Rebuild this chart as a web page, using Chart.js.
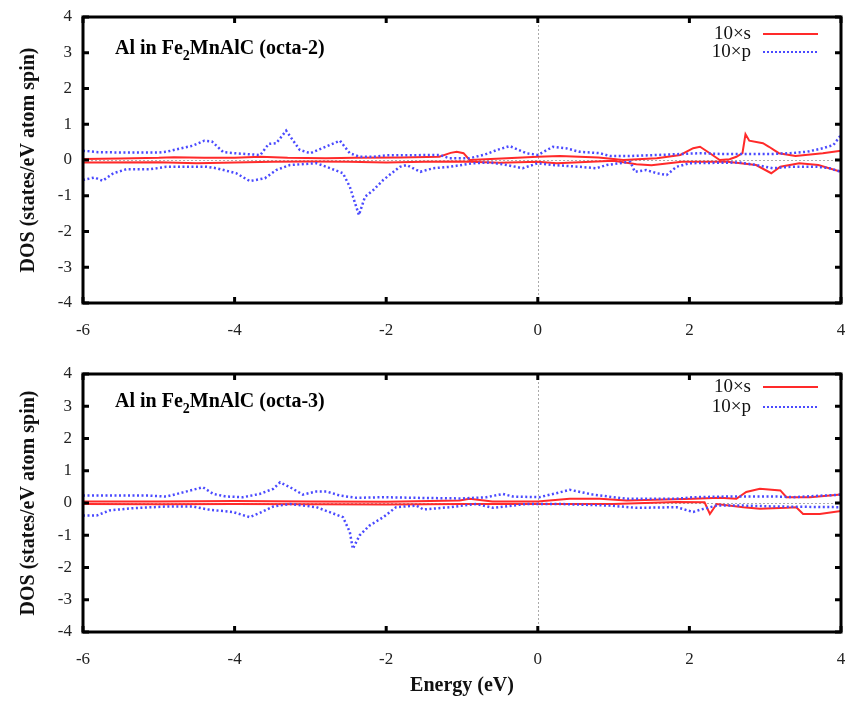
<!DOCTYPE html>
<html>
<head>
<meta charset="utf-8">
<script src="https://cdn.jsdelivr.net/npm/chart.js@4"></script>
<style>
  html, body { margin: 0; padding: 0; background: #fff; }
  #wrap { position: relative; width: 852px; height: 702px; }
  canvas { position: absolute; left: 0; }
</style>
</head>
<body>
<div id="wrap">
  <canvas id="top" width="852" height="345" style="top:0"></canvas>
  <canvas id="bottom" width="852" height="345" style="top:357px"></canvas>
</div>
<script>
// [energy (eV), DOS]
const top_sUp = [[-6,0.03],[-5.5,0.04],[-5.0,0.06],[-4.8,0.08],[-4.4,0.06],[-4.0,0.06],[-3.66,0.09],[-3.3,0.06],[-2.8,0.05],[-2.4,0.06],[-1.8,0.07],[-1.3,0.09],[-1.15,0.2],[-1.07,0.23],[-0.98,0.19],[-0.9,0.0],[-0.41,0.05],[0,0.09],[0.29,0.11],[0.8,0.07],[1.13,0.0],[1.57,0.05],[1.88,0.14],[2.05,0.33],[2.14,0.37],[2.27,0.19],[2.4,0.0],[2.53,0.02],[2.62,0.09],[2.7,0.19],[2.74,0.72],[2.79,0.54],[2.97,0.47],[3.05,0.37],[3.18,0.19],[3.4,0.11],[3.76,0.19],[4.0,0.26]]
const top_sDown = [[-6,-0.07],[-5.0,-0.06],[-4.5,-0.09],[-4.0,-0.07],[-3.5,-0.05],[-3.0,-0.04],[-2.5,-0.05],[-2.0,-0.07],[-1.5,-0.05],[-1.0,-0.04],[-0.5,-0.08],[0,-0.05],[0.25,-0.09],[0.7,-0.05],[1.0,-0.02],[1.3,-0.12],[1.5,-0.15],[1.7,-0.1],[1.9,-0.05],[2.5,-0.05],[2.88,-0.14],[3.08,-0.37],[3.2,-0.19],[3.45,-0.09],[3.7,-0.14],[4.0,-0.33]]
const top_pUp = [[-6,0.26],[-5.8,0.22],[-5.5,0.21],[-5.0,0.21],[-4.9,0.23],[-4.7,0.33],[-4.55,0.4],[-4.4,0.54],[-4.3,0.52],[-4.15,0.22],[-4.0,0.19],[-3.8,0.16],[-3.66,0.14],[-3.55,0.45],[-3.45,0.47],[-3.32,0.82],[-3.14,0.28],[-3.0,0.19],[-2.8,0.37],[-2.61,0.54],[-2.48,0.19],[-2.35,0.09],[-2.17,0.09],[-2.0,0.13],[-1.29,0.14],[-1.17,0.05],[-0.9,0.05],[-0.7,0.15],[-0.54,0.28],[-0.37,0.39],[-0.15,0.19],[0.0,0.14],[0.2,0.37],[0.37,0.33],[0.55,0.23],[0.82,0.19],[0.95,0.11],[1.2,0.11],[1.57,0.14],[2.14,0.19],[2.4,0.17],[3.1,0.17],[3.33,0.19],[3.55,0.23],[3.76,0.33],[3.9,0.42],[4.0,0.7]]
const top_pDown = [[-6,-0.56],[-5.85,-0.49],[-5.74,-0.58],[-5.6,-0.37],[-5.43,-0.26],[-5.12,-0.26],[-4.9,-0.19],[-4.37,-0.19],[-4.24,-0.23],[-3.98,-0.37],[-3.8,-0.59],[-3.6,-0.51],[-3.45,-0.28],[-3.27,-0.14],[-2.92,-0.09],[-2.74,-0.23],[-2.57,-0.37],[-2.48,-0.75],[-2.36,-1.54],[-2.28,-1.03],[-2.17,-0.84],[-2.04,-0.56],[-1.82,-0.19],[-1.73,-0.14],[-1.55,-0.33],[-1.38,-0.23],[-1.16,-0.19],[-0.85,-0.09],[-0.63,-0.07],[-0.41,-0.14],[-0.2,-0.23],[0,-0.09],[0.2,-0.14],[0.55,-0.19],[0.77,-0.23],[0.91,-0.14],[1.22,-0.05],[1.28,-0.33],[1.43,-0.28],[1.57,-0.37],[1.7,-0.42],[1.83,-0.19],[2.0,-0.09],[2.66,-0.07],[2.88,-0.14],[3.1,-0.23],[3.33,-0.19],[3.68,-0.19],[3.85,-0.23],[4.0,-0.33]]

const bot_sUp = [[-6,0.05],[-5,0.05],[-4,0.06],[-3,0.05],[-2,0.04],[-1.03,0.08],[-0.9,0.13],[-0.6,0.05],[0,0.05],[0.42,0.13],[0.82,0.13],[1.17,0.08],[2.05,0.13],[2.4,0.16],[2.62,0.13],[2.75,0.34],[2.93,0.44],[3.2,0.39],[3.28,0.18],[3.59,0.18],[4.0,0.26]]
const bot_sDown = [[-6,-0.03],[-5,-0.04],[-4,-0.03],[-3,-0.04],[-2,-0.05],[-1,-0.03],[0,-0.03],[1,-0.03],[1.83,0.03],[2.2,0.02],[2.27,-0.34],[2.36,-0.03],[2.71,-0.13],[2.93,-0.18],[3.28,-0.15],[3.41,-0.13],[3.5,-0.34],[3.72,-0.34],[4.0,-0.25]]
const bot_pUp = [[-6,0.23],[-5.12,0.23],[-4.9,0.2],[-4.68,0.33],[-4.42,0.49],[-4.28,0.28],[-4.11,0.2],[-3.89,0.18],[-3.67,0.28],[-3.49,0.44],[-3.4,0.64],[-3.27,0.49],[-3.1,0.26],[-2.92,0.36],[-2.79,0.36],[-2.61,0.23],[-2.39,0.16],[-2.04,0.18],[-1.6,0.16],[-0.99,0.14],[-0.68,0.18],[-0.46,0.28],[-0.33,0.2],[0.02,0.18],[0.24,0.3],[0.42,0.41],[0.73,0.26],[1.17,0.13],[1.83,0.13],[2.05,0.18],[2.49,0.2],[3.15,0.2],[3.37,0.18],[4.0,0.26]]
const bot_pDown = [[-6,-0.39],[-5.82,-0.39],[-5.65,-0.23],[-5.34,-0.16],[-4.9,-0.11],[-4.55,-0.11],[-4.33,-0.21],[-4.02,-0.28],[-3.8,-0.44],[-3.67,-0.31],[-3.49,-0.11],[-3.27,-0.03],[-2.92,-0.13],[-2.57,-0.44],[-2.48,-0.9],[-2.44,-1.42],[-2.35,-1.0],[-2.22,-0.7],[-2.04,-0.44],[-1.87,-0.13],[-1.6,-0.08],[-1.51,-0.2],[-1.16,-0.13],[-0.81,-0.03],[-0.59,-0.15],[-0.15,-0.03],[0.29,-0.03],[0.95,-0.08],[1.3,-0.15],[1.83,-0.13],[2.05,-0.28],[2.14,-0.21],[2.36,-0.08],[2.71,-0.08],[3.15,-0.11],[4.0,-0.13]]

const X_TICKS = [-6, -4, -2, 0, 2, 4]
const Y_TICKS = [-4, -3, -2, -1, 0, 1, 2, 3, 4]
const LEGEND = ["10×s", "10×p"]

const S_COLOR = "#ff2a2a"
const P_COLOR = "#4a4aff"
const SERIF = "'Liberation Serif', 'DejaVu Serif', serif"

const toXY = (pts) => pts.map(([x, y]) => ({ x, y }))

// frame, inward ticks, zero lines, legend and panel label
const decor = {
  id: "decor",
  beforeDatasetsDraw(chart) {
    const { ctx, chartArea: a, scales: { x, y } } = chart
    ctx.save()
    ctx.strokeStyle = "#aaaaaa"
    ctx.lineWidth = 1
    ctx.setLineDash([2, 2])
    const x0 = Math.round(x.getPixelForValue(0)) + 0.5
    const y0 = Math.round(y.getPixelForValue(0)) + 0.5
    ctx.beginPath()
    ctx.moveTo(x0, a.top); ctx.lineTo(x0, a.bottom)
    ctx.moveTo(a.left, y0); ctx.lineTo(a.right, y0)
    ctx.stroke()
    ctx.restore()
  },
  afterDatasetsDraw(chart, args, opts) {
    const { ctx, chartArea: a, scales: { x, y } } = chart
    ctx.save()
    ctx.strokeStyle = "#000"
    ctx.lineWidth = 3
    ctx.strokeRect(a.left, a.top, a.right - a.left, a.bottom - a.top)
    ctx.beginPath()
    X_TICKS.forEach(v => {
      const px = x.getPixelForValue(v)
      ctx.moveTo(px, a.bottom); ctx.lineTo(px, a.bottom - 6)
      ctx.moveTo(px, a.top); ctx.lineTo(px, a.top + 6)
    })
    Y_TICKS.forEach(v => {
      const py = y.getPixelForValue(v)
      ctx.moveTo(a.left, py); ctx.lineTo(a.left + 6, py)
      ctx.moveTo(a.right, py); ctx.lineTo(a.right - 6, py)
    })
    ctx.stroke()

    // legend: text then line sample
    ctx.font = "19px " + SERIF
    ctx.fillStyle = "#111"
    ctx.textAlign = "right"
    ctx.textBaseline = "middle"
    const ly = opts.legendY
    ctx.fillText(LEGEND[0], 751, a.top + ly[0])
    ctx.fillText(LEGEND[1], 751, a.top + ly[1])
    ctx.lineWidth = 2
    ctx.strokeStyle = S_COLOR
    ctx.beginPath(); ctx.moveTo(763, a.top + ly[0]); ctx.lineTo(818, a.top + ly[0]); ctx.stroke()
    ctx.strokeStyle = P_COLOR
    ctx.setLineDash([2, 2])
    ctx.beginPath(); ctx.moveTo(763, a.top + ly[1]); ctx.lineTo(818, a.top + ly[1]); ctx.stroke()
    ctx.setLineDash([])

    // panel label with subscript
    ctx.textAlign = "left"
    ctx.textBaseline = "alphabetic"
    ctx.fillStyle = "#000"
    let tx = 115
    const ty = a.top + opts.labelY
    const parts = [["Al in Fe", 20, 0], ["2", 14, 6], ["MnAlC (" + opts.tag + ")", 20, 0]]
    parts.forEach(([t, size, dy]) => {
      ctx.font = "bold " + size + "px " + SERIF
      ctx.fillText(t, tx, ty + dy)
      tx += ctx.measureText(t).width
    })
    ctx.restore()
  }
}

function makePanel(id, tag, sUp, sDown, pUp, pDown, opts) {
  const line = (data, color, dotted) => ({
    data: toXY(data),
    borderColor: color,
    borderWidth: dotted ? 2.5 : 2,
    borderDash: dotted ? [2, 2.5] : [],
    pointRadius: 0,
    tension: 0,
    fill: false
  })
  return new Chart(document.getElementById(id), {
    type: "line",
    data: {
      datasets: [
        line(pUp, P_COLOR, true),
        line(pDown, P_COLOR, true),
        line(sUp, S_COLOR, false),
        line(sDown, S_COLOR, false)
      ]
    },
    options: {
      responsive: false,
      animation: false,
      events: [],
      layout: { padding: { top: 17, right: 11, left: 0, bottom: 0 } },
      plugins: {
        legend: { display: false },
        tooltip: { enabled: false },
        decor: { legendY: opts.legendY, labelY: opts.labelY, tag }
      },
      scales: {
        x: {
          type: "linear",
          min: -6, max: 4,
          afterBuildTicks: (s) => { s.ticks = X_TICKS.map(v => ({ value: v })) },
          afterFit: (s) => { s.height = opts.xHeight; s.paddingLeft = 0; s.paddingRight = 0 },
          grid: { display: false, drawTicks: false },
          border: { display: false },
          ticks: { font: { family: SERIF, size: 17 }, color: "#222", padding: 17 },
          title: {
            display: opts.showTitle,
            text: "Energy (eV)",
            font: { family: SERIF, size: 20, weight: "bold" },
            color: "#111",
            padding: { top: 6 }
          }
        },
        y: {
          type: "linear",
          min: -4, max: 4,
          afterBuildTicks: (s) => { s.ticks = Y_TICKS.map(v => ({ value: v })) },
          afterFit: (s) => { s.width = 83; s.paddingTop = 0; s.paddingBottom = 0 },
          grid: { display: false, drawTicks: false },
          border: { display: false },
          ticks: { font: { family: SERIF, size: 17 }, color: "#222", padding: 11 },
          title: {
            display: true,
            text: "DOS (states/eV atom spin)",
            font: { family: SERIF, size: 20, weight: "bold" },
            color: "#111",
            padding: { top: 17, bottom: 0 }
          }
        }
      }
    },
    plugins: [decor]
  })
}

makePanel("top", "octa-2", top_sUp, top_sDown, top_pUp, top_pDown,
  { xHeight: 42, showTitle: false, legendY: [17, 35], labelY: 37 })
makePanel("bottom", "octa-3", bot_sUp, bot_sDown, bot_pUp, bot_pDown,
  { xHeight: 70, showTitle: true, legendY: [13, 33], labelY: 33 })
</script>
</body>
</html>
